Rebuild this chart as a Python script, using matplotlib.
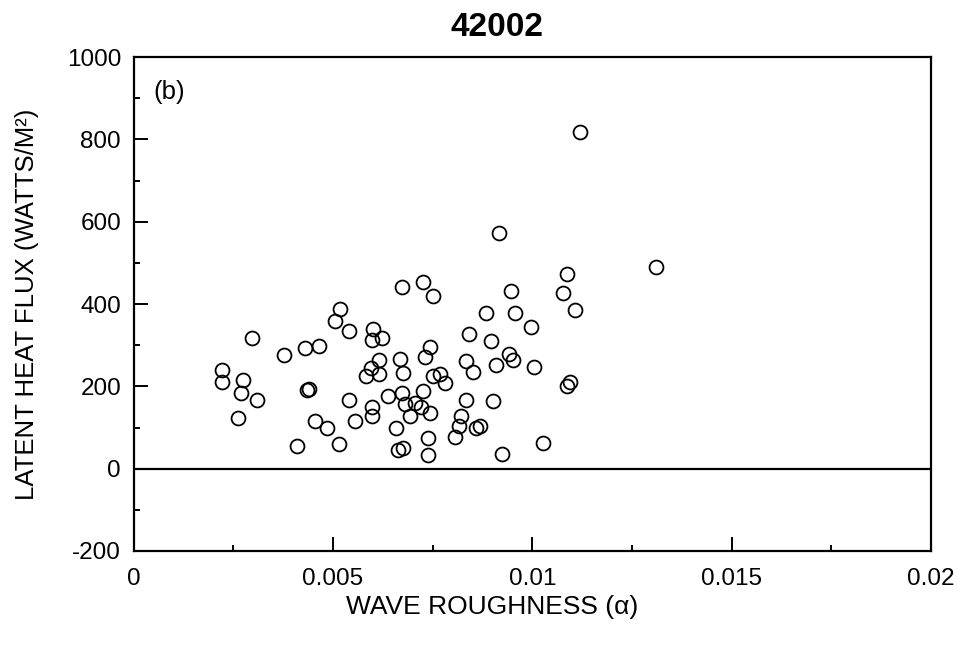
import matplotlib
matplotlib.use("Agg")
import matplotlib.pyplot as plt
from matplotlib.ticker import MultipleLocator, FuncFormatter

# wave roughness (alpha) vs latent heat flux (W/m^2), buoy 42002, panel (b)
roughness = [
    0.01120, 0.00917, 0.01310, 0.01088, 0.01076, 0.01106, 0.00947, 0.00956, 0.00884, 0.00996,
    0.00841, 0.00897, 0.00942, 0.00952, 0.00908, 0.01004, 0.00834, 0.00725, 0.00673, 0.00752,
    0.00744, 0.00731, 0.00622, 0.00600, 0.00597, 0.00505, 0.00518, 0.00541, 0.00296, 0.00378,
    0.00430, 0.00465, 0.00221, 0.00221, 0.00275, 0.00269, 0.00309, 0.00263, 0.00434, 0.00441,
    0.00616, 0.00595, 0.00583, 0.00616, 0.00668, 0.00677, 0.00852, 0.00750, 0.00769, 0.00781,
    0.01086, 0.01095, 0.00639, 0.00673, 0.00725, 0.00681, 0.00706, 0.00720, 0.00693, 0.00744,
    0.00833, 0.00901, 0.00821, 0.00815, 0.00859, 0.00658, 0.00806, 0.00739, 0.00664, 0.00675,
    0.00739, 0.00924, 0.01026, 0.00869, 0.00541, 0.00597, 0.00599, 0.00455, 0.00486, 0.00555,
    0.00411, 0.00516,
]
latent_flux = [
    817, 573, 491, 472, 427, 385, 431, 377, 377, 343,
    327, 309, 279, 263, 252, 246, 261, 454, 442, 420,
    296, 271, 318, 339, 312, 358, 388, 335, 318, 277,
    293, 297, 239, 210, 215, 184, 168, 123, 192, 194,
    263, 245, 224, 231, 267, 233, 235, 226, 231, 207,
    202, 211, 177, 184, 188, 157, 160, 151, 127, 135,
    166, 164, 129, 103, 100, 99, 77, 75, 45, 49,
    32, 36, 62, 103, 168, 151, 127, 115, 99, 115,
    56, 61,
]

plt.rcParams["font.family"] = ["Liberation Sans", "DejaVu Sans"]
plt.rcParams["axes.unicode_minus"] = False

fig = plt.figure(figsize=(9.58, 6.48), dpi=100)
ax = fig.add_axes([0.1394, 0.1497, 0.8324, 0.7623])

ax.plot(roughness, latent_flux, "o", mfc="none", mec="black", ms=10, mew=1.3, ls="none")
ax.axhline(0, color="black", lw=1.6)

ax.set_xlim(0, 0.02); ax.set_ylim(-200, 1000)
ax.xaxis.set_major_locator(MultipleLocator(0.005)); ax.xaxis.set_minor_locator(MultipleLocator(0.0025))
ax.yaxis.set_major_locator(MultipleLocator(200)); ax.yaxis.set_minor_locator(MultipleLocator(100))
ax.xaxis.set_major_formatter(FuncFormatter(lambda v, p: "0" if v == 0 else f"{v:g}"))
ax.tick_params(which="both", direction="in", top=False, right=False, width=1.4, labelsize=17.5)
ax.tick_params(which="major", length=10)
ax.tick_params(axis="x", which="major", pad=12)
ax.tick_params(axis="y", which="major", pad=9)
ax.tick_params(which="minor", length=4.5)
for s in ax.spines.values():
    s.set_linewidth(1.6)

ax.set_xlabel("WAVE ROUGHNESS (\u03b1)", fontsize=19)
ax.xaxis.set_label_coords((492 - 133.5) / 797.5, -0.09)
ax.set_ylabel("LATENT HEAT FLUX (WATTS/M\u00b2)", fontsize=18.5)
ax.yaxis.set_label_coords(-0.118, 0.5)
ax.text(0.0005, 915, "(b)", fontsize=18.5, va="center", ha="left")
fig.text(497 / 958, 1 - 27 / 648, "42002", fontsize=24, fontweight="bold", ha="center", va="center")

fig.savefig("out.png", dpi=100)
